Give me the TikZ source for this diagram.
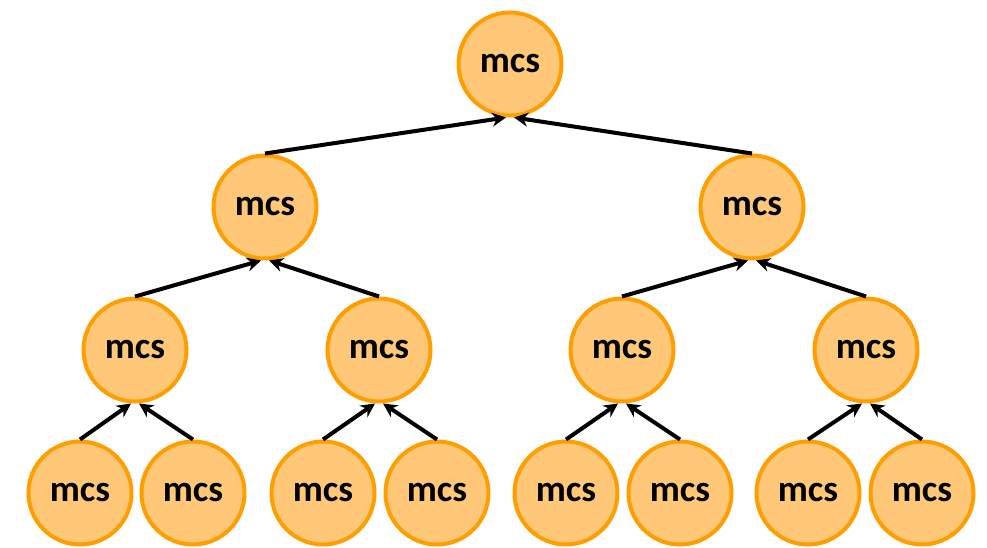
\documentclass[tikz,border=0pt]{standalone}
\usepackage{fontspec}
\setmainfont{Carlito}
\usetikzlibrary{arrows.meta}
\definecolor{mcsfill}{RGB}{255,200,120}
\definecolor{mcsedge}{RGB}{255,158,0}
\begin{document}
\begin{tikzpicture}[x=1pt,y=-1pt,
  mcsnode/.style={circle, draw=mcsedge, fill=mcsfill, line width=4pt,
    minimum size=103pt, inner sep=0pt,
    font=\fontsize{37}{42}\selectfont\bfseries},
  arr/.style={-{Stealth[length=14pt,width=14pt]}, line width=4pt, black}]
\useasboundingbox (0,0) rectangle (987,548);
% tree nodes
\node[mcsnode] (r) at (510,64) {mcs};
\node[mcsnode] (a) at (265,207) {mcs};
\node[mcsnode] (b) at (752,207) {mcs};
\node[mcsnode] (a1) at (135,350) {mcs};
\node[mcsnode] (a2) at (379,350) {mcs};
\node[mcsnode] (b1) at (622,350) {mcs};
\node[mcsnode] (b2) at (866,350) {mcs};
\node[mcsnode] (a11) at (80,493) {mcs};
\node[mcsnode] (a12) at (193,493) {mcs};
\node[mcsnode] (a21) at (323,493) {mcs};
\node[mcsnode] (a22) at (437,493) {mcs};
\node[mcsnode] (b11) at (566,493) {mcs};
\node[mcsnode] (b12) at (680,493) {mcs};
\node[mcsnode] (b21) at (808,493) {mcs};
\node[mcsnode] (b22) at (922,493) {mcs};
% child -> parent connectors
\foreach \p/\l/\rr in {r/a/b, a/a1/a2, b/b1/b2, a1/a11/a12, a2/a21/a22, b1/b11/b12, b2/b21/b22}{
  \draw[arr] (\l.north) -- ([xshift=-4pt]\p.south);
  \draw[arr] (\rr.north) -- ([xshift=4pt]\p.south);
}
\end{tikzpicture}
\end{document}
